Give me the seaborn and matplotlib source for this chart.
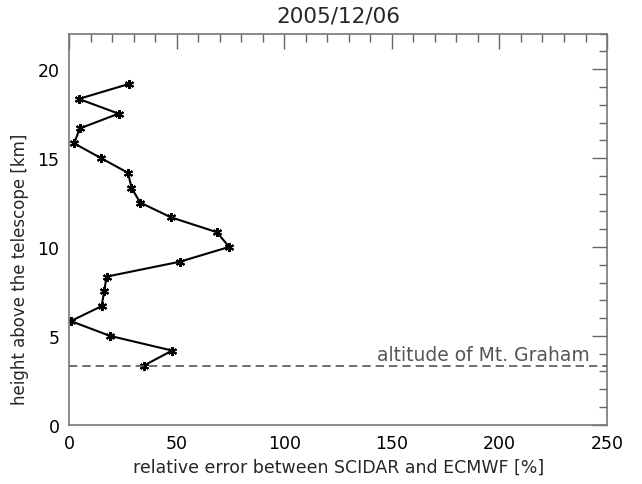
import matplotlib
matplotlib.use("Agg")
import matplotlib.pyplot as plt
import seaborn as sns
import pandas as pd
from matplotlib.ticker import MultipleLocator

# Data
heights_km = [3.33, 4.17, 5.0, 5.83, 6.67, 7.5, 8.33, 9.17, 10.0, 10.83,
              11.67, 12.5, 13.33, 14.17, 15.0, 15.83, 16.67, 17.5, 18.33, 19.17]
rel_error = [34.7, 47.8, 18.8, 0.7, 15.0, 16.2, 17.3, 51.4, 74.3, 68.6,
             47.2, 32.9, 28.9, 27.3, 14.7, 2.2, 4.9, 22.9, 4.4, 27.7]
graham_alt = 3.3
title = "2005/12/06"
xlabel = "relative error between SCIDAR and ECMWF [%]"
ylabel = "height above the telescope [km]"
ref_label = "altitude of Mt. Graham"

sns.set_theme(style="white")
plt.rcParams['font.family'] = ['DejaVu Sans']

df = pd.DataFrame({"err": rel_error, "h": heights_km})

fig = plt.figure(figsize=(6.42, 4.85), dpi=100)
ax = fig.add_axes([0.108, 0.1223, 0.8375, 0.8062])

sns.lineplot(data=df, x="err", y="h", sort=False, ax=ax, color="black",
             linewidth=1.5, marker=(6, 2, 0), markersize=6.5,
             markeredgewidth=1.5, markeredgecolor="black", estimator=None)

ax.axhline(graham_alt, color="#555555", linestyle=(0, (5, 3)), linewidth=1.2)
ax.text(143, graham_alt + 0.12, ref_label, color="#555555", fontsize=13.5,
        ha="left", va="bottom")

ax.set_xlim(0, 250)
ax.set_ylim(0, 22)
ax.xaxis.set_major_locator(MultipleLocator(50))
ax.xaxis.set_minor_locator(MultipleLocator(10))
ax.yaxis.set_major_locator(MultipleLocator(5))
ax.yaxis.set_minor_locator(MultipleLocator(1))
ax.tick_params(which="both", direction="in", top=True, right=True,
               color="#666666", width=1, labelsize=12.5, labelcolor="black")
ax.tick_params(which="major", length=11, pad=7)
ax.tick_params(which="minor", length=6)
for s in ax.spines.values():
    s.set_color("#777777")
    s.set_linewidth(1.2)

ax.set_title(title, fontsize=15.5, pad=9)
ax.set_xlabel(xlabel, fontsize=12.5, labelpad=4)
ax.set_ylabel(ylabel, fontsize=12)
ax.yaxis.set_label_coords(-0.075, 0.40)

fig.savefig("out.png", dpi=100)
